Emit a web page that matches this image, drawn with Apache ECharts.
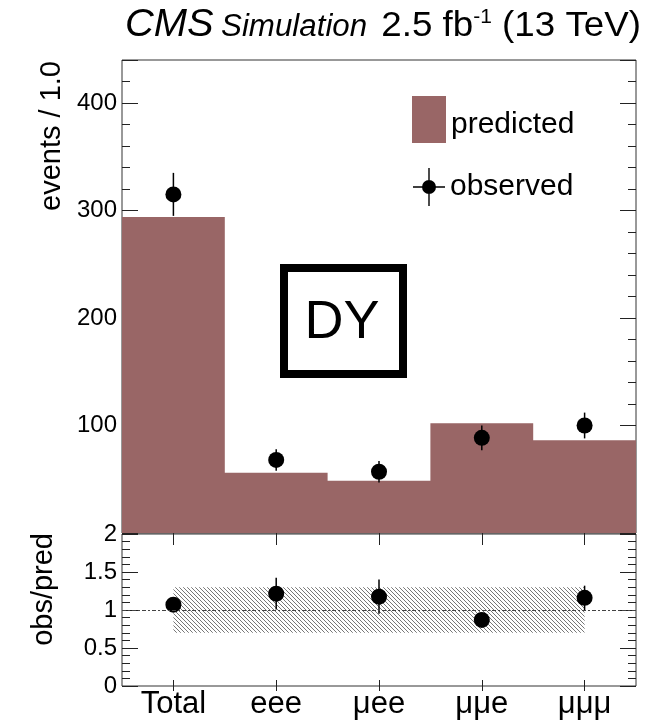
<!DOCTYPE html>
<html>
<head>
<meta charset="utf-8">
<style>
  html, body { margin: 0; padding: 0; background: #fff; }
  #chart { width: 650px; height: 720px; }
</style>
<script src="https://cdn.jsdelivr.net/npm/echarts@6/dist/echarts.min.js"></script>
</head>
<body>
<div id="chart"></div>
<script>
// Event yields per trilepton channel (DY control region)
const categories = ['Total', 'eee', 'μee', 'μμe', 'μμμ'];
const predicted = [294, 56, 48.5, 102, 86.3];
const observed = [315, 68, 57, 88.5, 100];
const observedErr = [20, 10, 10, 11.5, 12];

// Ratio panel
const ratio = [1.07, 1.215, 1.175, 0.87, 1.16];
const ratioErr = [0.07, 0.21, 0.225, 0.09, 0.16];
const bandLow = [0.7, 0.7, 0.7, 0.7, 0.7];
const bandHigh = [1.3, 1.3, 1.3, 1.3, 1.3];

// Tick labels
const topTickLabels = [100, 200, 300, 400];
const ratioTickLabels = [0, 0.5, 1, 1.5, 2];

const FONT = "'Liberation Sans', Arial, Helvetica, sans-serif";
const FRAME = '#333';
const BAR_COLOR = '#996666';

// Diagonal hatch tile for the uncertainty band
function makeHatch() {
  const n = 4;
  const c = document.createElement('canvas');
  c.width = n; c.height = n;
  const g = c.getContext('2d');
  g.strokeStyle = '#777';
  g.lineWidth = 1;
  for (const off of [-n, 0, n]) {
    g.beginPath();
    g.moveTo(off, 0);
    g.lineTo(off + n, n);
    g.stroke();
  }
  return c;
}
const hatch = makeHatch();

const chart = echarts.init(document.getElementById('chart'), null, { renderer: 'canvas' });

function yAxis(grid, pos, min, max, interval, len, labels) {
  return {
    type: 'value', gridIndex: grid, position: pos, min: min, max: max, interval: interval,
    axisLine: { show: false },
    splitLine: { show: false },
    axisTick: { show: true, inside: true, length: len, lineStyle: { color: '#222', width: 1 } },
    axisLabel: labels ? Object.assign({ show: true, color: '#000', fontFamily: FONT, fontSize: 24, margin: 5 }, labels)
                      : { show: false }
  };
}
function xAxis(grid, pos, len, labels) {
  return {
    type: 'category', gridIndex: grid, position: pos, data: categories,
    boundaryGap: true,
    axisLine: { show: false },
    splitLine: { show: false },
    axisTick: { show: true, inside: true, alignWithLabel: true, length: len, lineStyle: { color: '#222', width: 1 } },
    axisLabel: labels ? Object.assign({ show: true, color: '#000', fontFamily: FONT, fontSize: 31, margin: 3 }, labels)
                      : { show: false }
  };
}

// Vertical error bar drawn between [x, low] and [x, high]
function errorBar(params, api) {
  const a = api.coord([api.value(0), api.value(1)]);
  const b = api.coord([api.value(0), api.value(2)]);
  return { type: 'line', shape: { x1: a[0], y1: a[1], x2: b[0], y2: b[1] },
           style: { stroke: '#000', lineWidth: 1.5 } };
}

const option = {
  animation: false,
  backgroundColor: '#fff',
  grid: [
    { left: 122, right: 14, top: 60, height: 473, show: true, borderColor: FRAME, borderWidth: 1, backgroundColor: 'transparent' },
    { left: 122, right: 14, top: 534, height: 158, show: true, borderColor: FRAME, borderWidth: 1, backgroundColor: 'transparent' }
  ],
  xAxis: [
    xAxis(0, 'bottom', 14, null),
    xAxis(0, 'top', 12, null),
    xAxis(1, 'bottom', 6, {}),
    xAxis(1, 'top', 5, null)
  ],
  yAxis: [
    yAxis(0, 'left', 0, 440, 100, 16, {
      formatter: v => topTickLabels.indexOf(v) >= 0 ? String(v) : ''
    }),
    yAxis(0, 'left', 0, 440, 20, 8, null),
    yAxis(0, 'right', 0, 440, 100, 16, null),
    yAxis(0, 'right', 0, 440, 20, 8, null),
    yAxis(1, 'left', 0, 2, 0.5, 16, {
      formatter: v => ratioTickLabels.some(t => Math.abs(t - v) < 1e-9) ? String(+v.toFixed(1)) : ''
    }),
    yAxis(1, 'left', 0, 2, 0.1, 8, null),
    yAxis(1, 'right', 0, 2, 0.5, 16, null),
    yAxis(1, 'right', 0, 2, 0.1, 8, null)
  ],
  legend: [
    {
      data: [{ name: 'predicted', icon: 'rect' }],
      left: 412, top: 96, orient: 'vertical', padding: 0,
      itemWidth: 34, itemHeight: 47,
      formatter: '{p|{name}}',
      textStyle: { fontFamily: FONT, fontSize: 30, color: '#000',
                   rich: { p: { fontFamily: FONT, fontSize: 30, color: '#000', padding: [10, 0, 0, 0] } } },
      selectedMode: false
    },
    {
      data: [{ name: 'observed', icon: 'path://M0,18.3H32V19.7H0Z M15.3,0H16.7V38H15.3Z M9,19a7,7 0 1,1 14,0a7,7 0 1,1 -14,0Z' }],
      left: 413, top: 168, orient: 'vertical', padding: 0,
      itemWidth: 32, itemHeight: 38,
      textStyle: { fontFamily: FONT, fontSize: 30, color: '#000' },
      selectedMode: false
    }
  ],
  series: [
    {
      // Predicted yields as a filled step histogram (one outline, no seams)
      name: 'predicted', type: 'custom', xAxisIndex: 0, yAxisIndex: 0, z: 1, silent: true,
      itemStyle: { color: BAR_COLOR },
      data: [0],
      renderItem: (params, api) => {
        const w = api.size([1, 0])[0];
        const base = api.coord([0, 0])[1];
        const pts = [];
        const first = api.coord([0, predicted[0]]);
        pts.push([first[0] - w / 2, base]);
        for (let i = 0; i < predicted.length; i++) {
          const p = api.coord([i, predicted[i]]);
          pts.push([p[0] - w / 2, p[1]]);
          pts.push([p[0] + w / 2, p[1]]);
        }
        const last = api.coord([predicted.length - 1, 0]);
        pts.push([last[0] + w / 2, base]);
        return { type: 'polygon', shape: { points: pts }, style: { fill: BAR_COLOR, stroke: null } };
      }
    },
    {
      name: 'observedErr', type: 'custom', xAxisIndex: 0, yAxisIndex: 0, z: 3, silent: true,
      data: observed.map((v, i) => [i, v - observedErr[i], v + observedErr[i]]),
      renderItem: errorBar
    },
    {
      name: 'observed', type: 'scatter', xAxisIndex: 0, yAxisIndex: 0, z: 4,
      data: observed, symbol: 'circle', symbolSize: 16,
      itemStyle: { color: '#000', opacity: 1 }, silent: true
    },
    {
      name: 'band', type: 'custom', xAxisIndex: 2, yAxisIndex: 4, z: 2, silent: true,
      data: [0],
      renderItem: (params, api) => {
        const pts = [];
        for (let i = 0; i < categories.length; i++) pts.push(api.coord([i, bandHigh[i]]));
        for (let i = categories.length - 1; i >= 0; i--) pts.push(api.coord([i, bandLow[i]]));
        return { type: 'polygon', shape: { points: pts },
                 style: { fill: { image: hatch, repeat: 'repeat' }, stroke: null } };
      }
    },
    {
      name: 'ratioErr', type: 'custom', xAxisIndex: 2, yAxisIndex: 4, z: 3, silent: true,
      data: ratio.map((v, i) => [i, v - ratioErr[i], v + ratioErr[i]]),
      renderItem: errorBar
    },
    {
      name: 'ratio', type: 'scatter', xAxisIndex: 2, yAxisIndex: 4, z: 4,
      data: ratio, symbol: 'circle', symbolSize: 16,
      itemStyle: { color: '#000', opacity: 1 }, silent: true,
      markLine: {
        silent: true, symbol: ['none', 'none'], label: { show: false },
        lineStyle: { color: '#444', width: 1, type: [4, 2, 2, 2] },
        data: [{ yAxis: 1 }]
      }
    }
  ],
  graphic: [
    { type: 'text', x: 125, y: 25, scaleX: 1.05, style: { text: 'CMS', fontFamily: FONT, fontStyle: 'italic', fontSize: 38, fill: '#000', align: 'left', verticalAlign: 'middle' } },
    { type: 'text', x: 221, y: 27, scaleX: 1.01, style: { text: 'Simulation', fontFamily: FONT, fontStyle: 'italic', fontSize: 31, fill: '#000', align: 'left', verticalAlign: 'middle' } },
    { type: 'text', x: 641, y: 26, scaleX: 1.05, style: {
        text: '{a|2.5 fb}{s|-1}{a| (13 TeV)}', align: 'right', verticalAlign: 'middle',
        rich: {
          a: { fontFamily: FONT, fontSize: 35, fill: '#000', lineHeight: 38 },
          s: { fontFamily: FONT, fontSize: 20, fill: '#000', lineHeight: 22, verticalAlign: 'top' }
        } } },
    { type: 'text', x: 52, y: 61, rotation: Math.PI / 2, style: { text: 'events / 1.0', fontFamily: FONT, fontSize: 29, fill: '#000', align: 'right', verticalAlign: 'middle' } },
    { type: 'text', x: 44, y: 533, rotation: Math.PI / 2, style: { text: 'obs/pred', fontFamily: FONT, fontSize: 29, fill: '#000', align: 'right', verticalAlign: 'middle' } },
    { type: 'rect', shape: { x: 284, y: 268, width: 119, height: 106 }, style: { fill: 'none', stroke: '#000', lineWidth: 8 }, z: 10 },
    { type: 'text', x: 342, y: 323, style: { text: 'DY', fontFamily: FONT, fontSize: 54, fill: '#000', align: 'center', verticalAlign: 'middle' }, z: 10 }
  ]
};

chart.setOption(option);
</script>
</body>
</html>
